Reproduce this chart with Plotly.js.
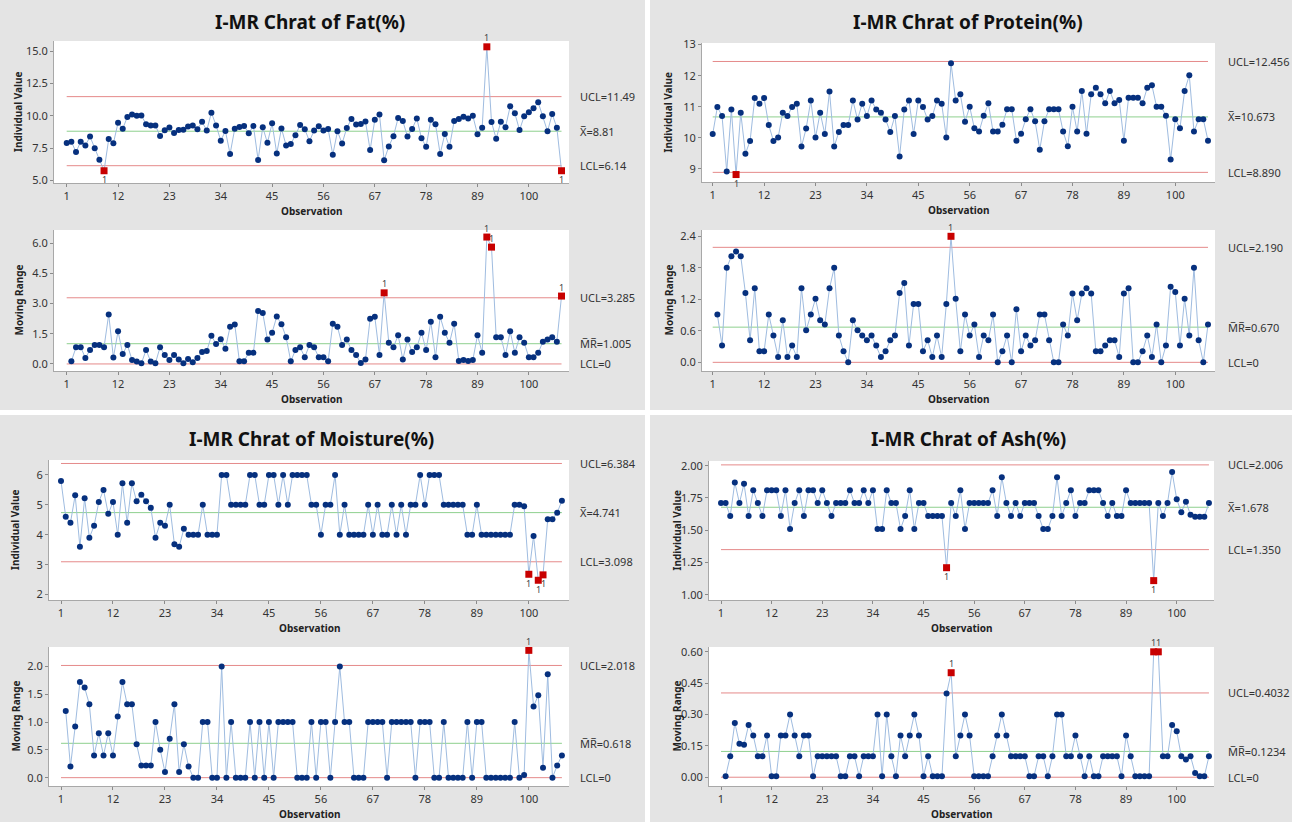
<!DOCTYPE html>
<html><head><meta charset="utf-8">
<script src="https://cdn.plot.ly/plotly-3.0.1.min.js"></script>
<style>html,body{margin:0;padding:0;background:#fff}#chart{width:1292px;height:822px}</style>
</head><body><div id="chart"></div>
<script>
// ---------------- DATA ----------------
const obsTickVals = [1, 12, 23, 34, 45, 56, 67, 78, 89, 100];
const obsTickText = ['1', '12', '23', '34', '45', '56', '67', '78', '89', '100'];

const fatI = [7.9, 8.0, 7.2, 8.0, 7.7, 8.4, 7.5, 6.6, 5.75, 8.2,
  7.87, 9.47, 9.0, 9.92, 10.1, 10.0, 10.03, 9.36, 9.25, 9.25,
  8.45, 8.88, 9.1, 8.67, 8.9, 8.92, 9.18, 9.25, 8.97, 9.54,
  8.87, 10.25, 9.26, 8.08, 8.83, 7.05, 9.01, 9.13, 9.22, 8.66,
  9.22, 6.59, 9.12, 7.91, 9.42, 7.08, 9.03, 7.71, 7.82, 8.5,
  9.3, 8.97, 8.04, 8.86, 9.19, 8.86, 8.99, 6.99, 8.8, 7.86,
  9.07, 9.76, 9.33, 9.37, 9.57, 7.35, 9.69, 10.1, 6.57, 7.62,
  8.43, 9.84, 9.6, 8.4, 8.99, 9.8, 8.27, 7.6, 9.7, 9.36,
  7.05, 8.6, 7.6, 9.6, 9.75, 9.93, 9.8, 10.0, 8.57, 9.08,
  15.35, 9.52, 8.22, 9.55, 9.12, 10.74, 10.2, 8.9, 9.97, 10.28,
  10.6, 11.05, 9.98, 8.8, 10.14, 9.08, 5.75];
const fatMR = [0.13, 0.83, 0.83, 0.30, 0.69, 0.94, 0.94, 0.83, 2.46,
  0.32, 1.62, 0.49, 0.94, 0.2, 0.12, 0.03, 0.69, 0.12, 0.03,
  0.83, 0.44, 0.2, 0.44, 0.22, 0.03, 0.25, 0.08, 0.30, 0.59,
  0.64, 1.40, 0.99, 1.23, 0.76, 1.85, 1.96, 0.13, 0.13, 0.56,
  0.56, 2.63, 2.53, 1.21, 1.55, 2.36, 1.97, 1.33, 0.13, 0.69,
  0.83, 0.33, 0.94, 0.83, 0.33, 0.33, 0.13, 2.0, 1.85, 0.94,
  1.21, 0.69, 0.44, 0.05, 0.22, 2.24, 2.34, 0.44, 3.53, 1.05,
  0.83, 1.43, 0.22, 1.21, 0.59, 0.83, 1.55, 0.69, 2.1, 0.33,
  2.34, 1.55, 1.05, 2.0, 0.15, 0.2, 0.15, 0.2, 1.43, 0.55,
  6.3, 5.8, 1.33, 1.33, 0.44, 1.62, 0.55, 1.33, 1.05, 0.33,
  0.33, 0.55, 1.1, 1.21, 1.33, 1.1, 3.37];
const fatLimI = [11.49, 8.81, 6.14];
const fatLimMR = [3.285, 1.005, 0];
const fatLabI = ['UCL=11.49', 'X\u0305=8.81', 'LCL=6.14'];
const fatLabMR = ['UCL=3.285', 'M\u0305R\u0305=1.005', 'LCL=0'];
const fatTickI = [5, 7.5, 10, 12.5, 15];
const fatTickTextI = ['5.0', '7.5', '10.0', '12.5', '15.0'];
const fatTickMR = [0, 1.5, 3, 4.5, 6];
const fatTickTextMR = ['0.0', '1.5', '3.0', '4.5', '6.0'];

const proteinI = [10.12, 10.99, 10.70, 8.92, 10.91, 8.82, 10.81, 9.49, 9.90, 11.28,
  11.10, 11.28, 10.41, 9.90, 10.01, 10.81, 10.70, 10.99, 11.10, 9.72,
  10.30, 11.20, 10.01, 10.81, 10.12, 11.49, 9.72, 10.19, 10.41, 10.41,
  11.20, 10.59, 11.10, 10.70, 11.20, 10.91, 10.81, 10.59, 10.19, 10.70,
  9.40, 10.91, 11.20, 10.12, 11.20, 10.99, 10.59, 10.70, 11.20, 11.10,
  10.01, 12.40, 11.20, 11.40, 10.52, 11.00, 10.31, 10.20, 10.71, 11.11,
  10.20, 10.20, 10.42, 10.92, 10.92, 9.91, 10.13, 10.60, 10.92, 10.53,
  9.62, 10.53, 10.92, 10.92, 10.92, 10.20, 9.73, 11.00, 10.20, 11.51,
  10.13, 11.40, 11.61, 11.40, 11.11, 11.51, 11.11, 11.22, 9.91, 11.29,
  11.29, 11.29, 11.11, 11.61, 11.69, 11.00, 11.00, 10.71, 9.30, 10.60,
  10.31, 11.51, 12.01, 10.20, 10.60, 10.60, 9.91];
const proteinMR = [0.91, 0.32, 1.80, 2.02, 2.11, 2.02, 1.32, 0.42, 1.41,
  0.21, 0.21, 0.91, 0.51, 0.10, 0.80, 0.10, 0.32, 0.10, 1.41,
  0.61, 0.91, 1.21, 0.80, 0.72, 1.41, 1.80, 0.51, 0.21, 0.0,
  0.80, 0.61, 0.51, 0.42, 0.51, 0.32, 0.10, 0.21, 0.42, 0.51,
  1.32, 1.51, 0.32, 1.11, 1.11, 0.21, 0.42, 0.10, 0.51, 0.10,
  1.11, 2.40, 1.21, 0.21, 0.91, 0.51, 0.72, 0.10, 0.51, 0.42,
  0.91, 0.0, 0.21, 0.51, 0.0, 1.01, 0.21, 0.51, 0.32, 0.42,
  0.91, 0.91, 0.42, 0.0, 0.0, 0.72, 0.51, 1.31, 0.80, 1.31,
  1.41, 1.31, 0.21, 0.21, 0.32, 0.42, 0.42, 0.10, 1.31, 1.41,
  0.0, 0.0, 0.21, 0.51, 0.10, 0.72, 0.0, 0.32, 1.44, 1.34,
  0.32, 1.21, 0.51, 1.80, 0.42, 0.0, 0.72];
const proteinLimI = [12.456, 10.673, 8.890];
const proteinLimMR = [2.190, 0.670, 0];
const proteinLabI = ['UCL=12.456', 'X\u0305=10.673', 'LCL=8.890'];
const proteinLabMR = ['UCL=2.190', 'M\u0305R\u0305=0.670', 'LCL=0'];
const proteinTickI = [9, 10, 11, 12, 13];
const proteinTickTextI = ['9', '10', '11', '12', '13'];
const proteinTickMR = [0, 0.6, 1.2, 1.8, 2.4];
const proteinTickTextMR = ['0.0', '0.6', '1.2', '1.8', '2.4'];

const moistureI = [5.8, 4.6, 4.4, 5.32, 3.6, 5.22, 3.9, 4.3, 5.1, 5.5,
  4.7, 5.1, 4.0, 5.72, 4.4, 5.72, 5.12, 5.34, 5.12, 4.9,
  3.9, 4.4, 4.3, 5.0, 3.68, 3.6, 4.2, 4.0, 4.0, 4.0,
  5.0, 4.0, 4.0, 4.0, 6.0, 6.0, 5.0, 5.0, 5.0, 5.0,
  6.0, 6.0, 5.0, 5.0, 6.0, 6.0, 5.0, 6.0, 5.0, 6.0,
  6.0, 6.0, 6.0, 5.0, 5.0, 4.0, 5.0, 5.0, 6.0, 4.0,
  5.0, 4.0, 4.0, 4.0, 4.0, 5.0, 4.0, 5.0, 4.0, 4.0,
  5.0, 4.0, 5.0, 4.0, 5.0, 5.0, 6.0, 5.0, 6.0, 6.0,
  6.0, 5.0, 5.0, 5.0, 5.0, 5.0, 4.0, 4.0, 5.0, 4.0,
  4.0, 4.0, 4.0, 4.0, 4.0, 4.0, 5.0, 5.0, 4.95, 2.68,
  3.96, 2.48, 2.66, 4.52, 4.52, 4.74, 5.14];
const moistureMR = [1.2, 0.2, 0.92, 1.72, 1.62, 1.32, 0.4, 0.8, 0.4,
  0.8, 0.4, 1.1, 1.72, 1.32, 1.32, 0.6, 0.22, 0.22, 0.22,
  1.0, 0.5, 0.1, 0.7, 1.32, 0.1, 0.6, 0.2, 0, 0,
  1, 1, 0, 0, 2, 0, 1, 0, 0, 0,
  1, 0, 1, 0, 1, 0, 1, 1, 1, 1,
  0, 0, 0, 1, 0, 1, 1, 0, 1, 2,
  1, 1, 0, 0, 0, 1, 1, 1, 1, 0,
  1, 1, 1, 1, 1, 0, 1, 1, 1, 0,
  0, 1, 0, 0, 0, 0, 1, 0, 1, 1,
  0, 0, 0, 0, 0, 0, 1, 0, 0.05, 2.29,
  1.28, 1.48, 0.18, 1.86, 0, 0.22, 0.4];
const moistureLimI = [6.384, 4.741, 3.098];
const moistureLimMR = [2.018, 0.618, 0];
const moistureLabI = ['UCL=6.384', 'X\u0305=4.741', 'LCL=3.098'];
const moistureLabMR = ['UCL=2.018', 'M\u0305R\u0305=0.618', 'LCL=0'];
const moistureTickI = [2, 3, 4, 5, 6];
const moistureTickTextI = ['2', '3', '4', '5', '6'];
const moistureTickMR = [0, 0.5, 1, 1.5, 2];
const moistureTickTextMR = ['0.0', '0.5', '1.0', '1.5', '2.0'];

const ashI = [1.71, 1.71, 1.61, 1.87, 1.71, 1.86, 1.61, 1.81, 1.71, 1.61,
  1.81, 1.81, 1.81, 1.61, 1.81, 1.51, 1.71, 1.81, 1.61, 1.81,
  1.81, 1.71, 1.81, 1.71, 1.61, 1.71, 1.71, 1.71, 1.81, 1.71,
  1.71, 1.81, 1.71, 1.81, 1.51, 1.51, 1.81, 1.71, 1.71, 1.51,
  1.61, 1.81, 1.51, 1.71, 1.71, 1.61, 1.61, 1.61, 1.61, 1.21,
  1.71, 1.61, 1.81, 1.51, 1.71, 1.71, 1.71, 1.71, 1.71, 1.81,
  1.61, 1.91, 1.71, 1.61, 1.71, 1.61, 1.71, 1.71, 1.71, 1.61,
  1.51, 1.51, 1.61, 1.91, 1.61, 1.71, 1.81, 1.61, 1.71, 1.71,
  1.81, 1.81, 1.81, 1.71, 1.61, 1.71, 1.61, 1.61, 1.81, 1.71,
  1.71, 1.71, 1.71, 1.71, 1.11, 1.71, 1.61, 1.71, 1.95, 1.74,
  1.64, 1.72, 1.62, 1.605, 1.605, 1.605, 1.71];
const ashMR = [0.005, 0.10, 0.26, 0.16, 0.155, 0.25, 0.20, 0.10, 0.10,
  0.20, 0.005, 0.005, 0.20, 0.20, 0.30, 0.20, 0.10, 0.20, 0.20,
  0.005, 0.10, 0.10, 0.10, 0.10, 0.10, 0.005, 0.005, 0.10, 0.10,
  0.005, 0.10, 0.10, 0.10, 0.30, 0.005, 0.30, 0.10, 0.005, 0.20,
  0.10, 0.20, 0.30, 0.20, 0.005, 0.10, 0.005, 0.005, 0.005, 0.40,
  0.50, 0.10, 0.20, 0.30, 0.20, 0.005, 0.005, 0.005, 0.005, 0.10,
  0.20, 0.30, 0.20, 0.10, 0.10, 0.10, 0.10, 0.005, 0.005, 0.10,
  0.10, 0.005, 0.10, 0.30, 0.30, 0.10, 0.10, 0.20, 0.10, 0.005,
  0.10, 0.005, 0.005, 0.10, 0.10, 0.10, 0.10, 0.005, 0.20, 0.10,
  0.005, 0.005, 0.005, 0.005, 0.60, 0.60, 0.10, 0.10, 0.25, 0.22,
  0.10, 0.085, 0.10, 0.02, 0.005, 0.005, 0.10];
const ashLimI = [2.006, 1.678, 1.350];
const ashLimMR = [0.4032, 0.1234, 0];
const ashLabI = ['UCL=2.006', 'X\u0305=1.678', 'LCL=1.350'];
const ashLabMR = ['UCL=0.4032', 'M\u0305R\u0305=0.1234', 'LCL=0'];
const ashTickI = [1, 1.25, 1.5, 1.75, 2];
const ashTickTextI = ['1.00', '1.25', '1.50', '1.75', '2.00'];
const ashTickMR = [0, 0.15, 0.3, 0.45, 0.6];
const ashTickTextMR = ['0.00', '0.15', '0.30', '0.45', '0.60'];

const chartTitles = ['I-MR Chrat of Fat(%)', 'I-MR Chrat of Protein(%)', 'I-MR Chrat of Moisture(%)', 'I-MR Chrat of Ash(%)'];
const yTitleI = 'Individual Value';
const yTitleMR = 'Moving Range';
const xTitle = 'Observation';

// ---------------- LAYOUT GEOMETRY (pixels) ----------------
const W = 1292, H = 822;
const panels = [
  { I: fatI, MR: fatMR, limI: fatLimI, limMR: fatLimMR, labI: fatLabI, labMR: fatLabMR,
    tI: [fatTickI, fatTickTextI], tMR: [fatTickMR, fatTickTextMR],
    rI: [54, 569, 41, 183], rMR: [54, 569, 230, 371], xr: [-1.72, 108.6],
    yrI: [4.8, 15.8], yrMR: [-0.35, 6.65], title: [310, 22], yt: 18, lab: 578 },
  { I: proteinI, MR: proteinMR, limI: proteinLimI, limMR: proteinLimMR, labI: proteinLabI, labMR: proteinLabMR,
    tI: [proteinTickI, proteinTickTextI], tMR: [proteinTickMR, proteinTickTextMR],
    rI: [702, 1215, 43, 182], rMR: [702, 1215, 230, 371], xr: [-1.29, 108.5],
    yrI: [8.58, 13.05], yrMR: [-0.165, 2.52], title: [968, 22], yt: 668, lab: 1226 },
  { I: moistureI, MR: moistureMR, limI: moistureLimI, limMR: moistureLimMR, labI: moistureLabI, labMR: moistureLabMR,
    tI: [moistureTickI, moistureTickTextI], tMR: [moistureTickMR, moistureTickTextMR],
    rI: [49, 569, 460, 600], rMR: [49, 569, 647, 786], xr: [-1.54, 108.5],
    yrI: [1.82, 6.5], yrMR: [-0.15, 2.35], title: [311, 439], yt: 15, lab: 578 },
  { I: ashI, MR: ashMR, limI: ashLimI, limMR: ashLimMR, labI: ashLabI, labMR: ashLabMR,
    tI: [ashTickI, ashTickTextI], tMR: [ashTickMR, ashTickTextMR],
    rI: [709, 1214, 461, 600], rMR: [709, 1214, 647, 786], xr: [-1.61, 108.1],
    yrI: [0.96, 2.036], yrMR: [-0.042, 0.623], title: [968, 439], yt: 676, lab: 1226 }
];

const FONT = 'Noto Sans, DejaVu Sans, sans-serif';
const BLUE = '#06307E', LINE = '#9FBCE0', RED = '#C80000';
const LIMRED = '#E58A8A', CLGREEN = '#8ED08E';

const traces = [];
const layout = {
  width: W, height: H, margin: { l: 0, r: 0, t: 0, b: 0 },
  paper_bgcolor: '#E4E4E4', plot_bgcolor: '#FFFFFF', showlegend: false,
  font: { family: FONT, size: 11, color: '#333' },
  shapes: [
    { type: 'rect', xref: 'paper', yref: 'paper', x0: 645 / W, x1: 650 / W, y0: 0, y1: 1, fillcolor: '#FFFFFF', line: { width: 0 }, layer: 'below' },
    { type: 'rect', xref: 'paper', yref: 'paper', x0: 0, x1: 1, y0: 1 - 415 / H, y1: 1 - 410 / H, fillcolor: '#FFFFFF', line: { width: 0 }, layer: 'below' }
  ],
  annotations: []
};

let k = 0;
panels.forEach((p) => {
  const n = p.I.length;
  const obs = p.I.map((_, i) => i + 1);
  const mrObs = p.MR.map((_, i) => i + 2);
  layout.annotations.push({ xref: 'paper', yref: 'paper', x: p.title[0] / W, y: 1 - p.title[1] / H,
    text: '<b>' + chartTitles[k / 2] + '</b>', showarrow: false, xanchor: 'center', yanchor: 'middle',
    font: { family: FONT, size: 19, color: '#111' } });
  [['I', obs, p.I, p.limI, p.labI, p.tI, p.rI, p.yrI, yTitleI],
   ['MR', mrObs, p.MR, p.limMR, p.labMR, p.tMR, p.rMR, p.yrMR, yTitleMR]].forEach((s) => {
    const [kind, xs, ys, lim, lab, ticks, r, yr, ytitle] = s;
    const id = k === 0 ? '' : String(k + 1);
    const xa = 'x' + id, ya = 'y' + id;
    layout['xaxis' + id] = {
      domain: [r[0] / W, r[1] / W], range: p.xr, anchor: ya,
      tickvals: obsTickVals, ticktext: obsTickText, ticks: 'outside', ticklen: 3, tickcolor: '#8A8A8A',
      showline: true, linecolor: '#A8A8A8', linewidth: 1, showgrid: false, zeroline: false,
      tickfont: { family: FONT, size: 11, color: '#333' }, fixedrange: true
    };
    layout['yaxis' + id] = {
      domain: [1 - r[3] / H, 1 - r[2] / H], range: yr, anchor: xa,
      tickvals: ticks[0], ticktext: ticks[1], ticks: 'outside', ticklen: 3, tickcolor: '#8A8A8A',
      showline: true, linecolor: '#A8A8A8', linewidth: 1, showgrid: false, zeroline: false,
      tickfont: { family: FONT, size: 11, color: '#333' }, fixedrange: true
    };
    [LIMRED, CLGREEN, LIMRED].forEach((c, j) => {
      traces.push({ x: [1, n], y: [lim[j], lim[j]], mode: 'lines', line: { color: c, width: 1 },
        xaxis: xa, yaxis: ya, hoverinfo: 'skip' });
      layout.annotations.push({ xref: 'paper', yref: ya, x: p.lab / W, y: lim[j], text: lab[j],
        showarrow: false, xanchor: 'left', yanchor: 'middle', font: { family: FONT, size: 11, color: '#333' } });
    });
    const out = ys.map(v => v > lim[0] || v < lim[2]);
    traces.push({ x: xs, y: ys, mode: 'lines+markers', xaxis: xa, yaxis: ya,
      line: { color: LINE, width: 1 },
      marker: { color: out.map(o => o ? RED : BLUE), symbol: out.map(o => o ? 'square' : 'circle'),
        size: out.map(o => o ? 7 : 6), opacity: 1, line: { width: 0 } } });
    ys.forEach((v, i) => {
      if (out[i]) {
        layout.annotations.push({ xref: xa, yref: ya, x: xs[i], y: v, text: '1', showarrow: false,
          yshift: v > lim[0] ? 9 : -9, xanchor: 'center', yanchor: 'middle',
          font: { family: FONT, size: 9, color: '#444' } });
      }
    });
    layout.annotations.push({ xref: 'paper', yref: 'paper', x: p.yt / W, y: 1 - (r[2] + r[3]) / 2 / H,
      text: '<b>' + ytitle + '</b>', textangle: -90, showarrow: false, xanchor: 'center', yanchor: 'middle',
      font: { family: FONT, size: 10, color: '#222' } });
    layout.annotations.push({ xref: 'paper', yref: 'paper', x: (r[0] + r[1]) / 2 / W, y: 1 - (r[3] + 28) / H,
      text: '<b>' + xTitle + '</b>', showarrow: false, xanchor: 'center', yanchor: 'middle',
      font: { family: FONT, size: 10, color: '#222' } });
    k++;
  });
});

Plotly.newPlot('chart', traces, layout, { staticPlot: true, displayModeBar: false });
</script>
</body></html>
